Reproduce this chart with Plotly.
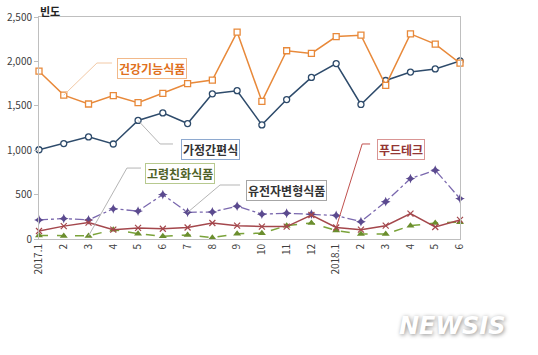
import plotly.graph_objects as go

months = ["2017.1", "2", "3", "4", "5", "6", "7", "8", "9", "10", "11", "12",
          "2018.1", "2", "3", "4", "5", "6"]
health_food = [1890, 1620, 1520, 1615, 1535, 1640, 1750, 1790, 2330, 1550,
               2120, 2090, 2280, 2295, 1730, 2310, 2195, 1980]
hmr = [1005, 1075, 1150, 1070, 1335, 1420, 1300, 1635, 1670, 1285,
       1570, 1820, 1975, 1515, 1785, 1880, 1915, 2005]
gmo = [215, 230, 215, 340, 315, 500, 300, 305, 370, 280,
       290, 280, 265, 195, 420, 680, 775, 455]
foodtech = [90, 145, 185, 105, 125, 115, 130, 180, 150, 140,
            140, 270, 130, 105, 150, 285, 135, 215]
senior = [40, 35, 35, 105, 60, 30, 45, 15, 60, 65,
          150, 180, 95, 55, 55, 150, 180, 190]

series_names = ["건강기능식품", "가정간편식", "고령친화식품", "유전자변형식품", "푸드테크"]

xs = list(range(len(months)))
FONT = "Noto Sans CJK KR"

fig = go.Figure()

fig.add_trace(go.Scatter(x=xs, y=gmo, mode="lines+markers", name=series_names[3],
                         line=dict(color="#7A68AE", width=1.3, dash="dashdot"),
                         marker=dict(symbol="star-diamond", size=7, color="#5B4A8F",
                                     line=dict(width=0)), cliponaxis=False))
fig.add_trace(go.Scatter(x=xs, y=senior, mode="lines+markers", name=series_names[2],
                         line=dict(color="#7AA33A", width=1.5, dash="dash"),
                         marker=dict(symbol="triangle-up", size=7, color="#6B8E2E",
                                     line=dict(width=0)), cliponaxis=False))
fig.add_trace(go.Scatter(x=xs, y=foodtech, mode="lines+markers", name=series_names[4],
                         line=dict(color="#A4474C", width=1.5),
                         marker=dict(symbol="x-thin-open", size=6,
                                     line=dict(color="#E39A9A", width=1.2)),
                         cliponaxis=False))
fig.add_trace(go.Scatter(x=xs, y=hmr, mode="lines+markers", name=series_names[1],
                         line=dict(color="#2E4B6B", width=1.5),
                         marker=dict(symbol="circle", size=6, color="white",
                                     line=dict(color="#2E4B6B", width=1.3)),
                         cliponaxis=False))
fig.add_trace(go.Scatter(x=xs, y=health_food, mode="lines+markers", name=series_names[0],
                         line=dict(color="#E8893A", width=1.5),
                         marker=dict(symbol="square", size=6, color="white",
                                     line=dict(color="#E8893A", width=1.3)),
                         cliponaxis=False))

# label boxes: (name, anchor series, anchor index, elbow x, elbow y, box left x, box center x, box center y, text color, border color, leader color)
labels = [
    (series_names[0], health_food, 1, 2.34, 1982, 2.95, 4.56, 1925, "#E07020", "#F2B98A", "#F2C9A6"),
    (series_names[1], hmr, 4, 4.89, 1070, 5.41, 6.93, 1005, "#333333", "#8EA9CF", "#B5B5B5"),
    (series_names[2], senior, 2, 3.55, 799, 4.12, 5.71, 740, "#4F6228", "#B7C98F", "#B5B5B5"),
    (series_names[3], gmo, 6, 7.31, 608, 8.12, 10.0, 548, "#333333", "#A6A6A6", "#B5B5B5"),
    (series_names[4], foodtech, 12, 13.05, 1070, 13.37, 14.62, 1005, "#943634", "#D99594", "#C0504D"),
]

shapes = []
annotations = []
for name, ser, idx, ex, ey, bx, cx, cy, tcol, bcol, lcol in labels:
    shapes.append(dict(type="path", xref="x", yref="y",
                       path=f"M {idx},{ser[idx]} L {ex},{ey} L {bx},{ey}",
                       line=dict(color=lcol, width=1)))
    annotations.append(dict(x=cx, y=cy, xref="x", yref="y", text=f"<b>{name}</b>",
                            showarrow=False, font=dict(family=FONT, size=12, color=tcol),
                            bgcolor="white", bordercolor=bcol, borderwidth=1, borderpad=1))

annotations.append(dict(x=38, y=11, xref="paper", yref="paper", text="<b>빈도</b>",
                        showarrow=False, xanchor="left", yanchor="middle",
                        font=dict(family=FONT, size=11, color="#222222")))
annotations.append(dict(x=452, y=326, xref="paper", yref="paper", text="<b><i>NEWSIS</i></b>",
                        showarrow=False, xanchor="center", yanchor="middle",
                        font=dict(family="DejaVu Sans", size=24, color="white",
                                  shadow="1px 1px 4px rgba(0,0,0,0.45)")))

# pixel layout of the 538x355 window (body margin removed below)
W, H = 538, 355
L, R, T, B = 39, 78, 17, 116
for a in annotations:
    if a["xref"] == "paper":
        a["x"] = (a["x"] - L) / (W - L - R)
        a["y"] = 1 - (a["y"] - T) / (H - T - B)

fig.update_layout(
    width=W, height=H,
    margin=dict(l=L, r=R, t=T, b=B, autoexpand=False),
    paper_bgcolor="white", plot_bgcolor="white",
    showlegend=False,
    font=dict(family=FONT, size=10, color="#404040"),
    shapes=shapes,
    annotations=annotations,
    xaxis=dict(range=[0, len(months) - 1], tickmode="array", tickvals=xs, ticktext=months,
               tickangle=-90, showgrid=False, zeroline=False, showline=True,
               linecolor="#BFBFBF", linewidth=1, mirror=True, ticks="", automargin=False,
               tickfont=dict(family=FONT, size=10, color="#404040")),
    yaxis=dict(range=[0, 2500], dtick=500, tickformat=",", showgrid=False, zeroline=False,
               showline=True, linecolor="#BFBFBF", linewidth=1, mirror=True, automargin=False,
               ticks="outside", ticklen=4, tickcolor="#BFBFBF",
               tickfont=dict(family=FONT, size=10, color="#404040")),
)

fig.write_html("out.html", config={"displayModeBar": False},
               post_script="document.body.style.margin='0';document.body.style.overflow='hidden';")
